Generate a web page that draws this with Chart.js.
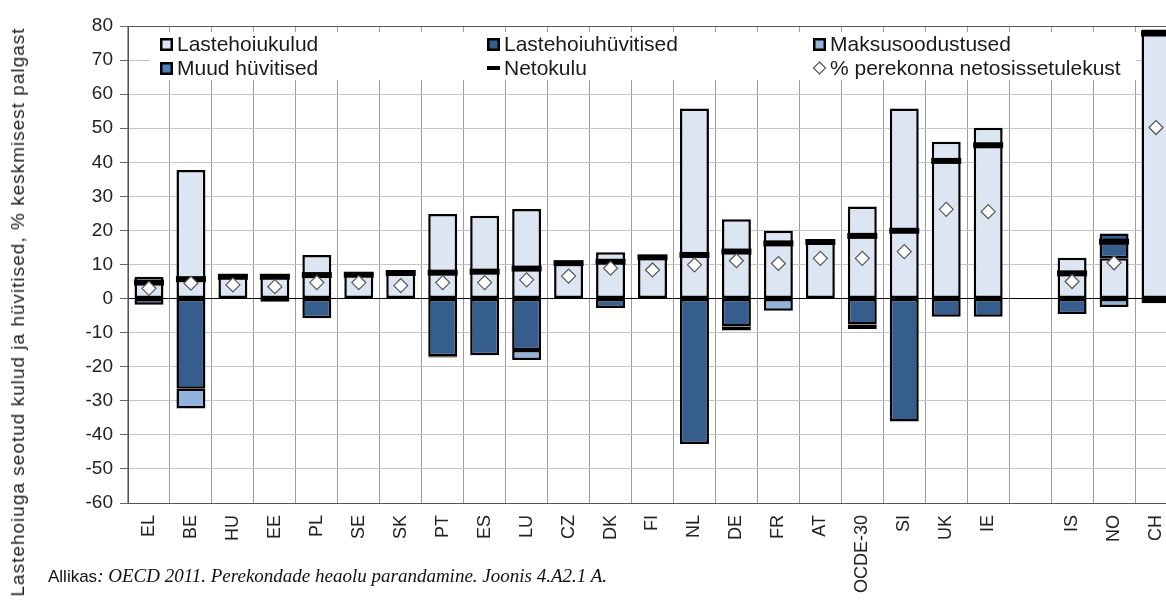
<!DOCTYPE html>
<html>
<head>
<meta charset="utf-8">
<script src="https://cdn.jsdelivr.net/npm/chart.js@4.4.1/dist/chart.umd.min.js"></script>
<style>
html,body{margin:0;padding:0;background:#fff;overflow:hidden;}
#wrap{position:relative;width:1166px;height:601px;overflow:hidden;}
#c{position:absolute;left:0;top:0;}
#ytitle{position:absolute;left:18px;top:312px;transform:translate(-50%,-50%) rotate(-90deg);white-space:nowrap;font:19px "Liberation Sans",Arial,sans-serif;letter-spacing:1px;color:#222;}
#src{position:absolute;left:48px;top:565px;font:17px "Liberation Sans",Arial,sans-serif;color:#111;white-space:nowrap;}
#src i{font-family:"Liberation Serif","Times New Roman",serif;font-size:19px;}
</style>
</head>
<body>
<div id="wrap">
  <canvas id="c" width="1198" height="640"></canvas>
  <div id="ytitle">Lastehoiuga seotud kulud ja hüvitised, % keskmisest palgast</div>
  <div id="src">Allikas<i>: OECD 2011. Perekondade heaolu parandamine. Joonis 4.A2.1 A.</i></div>
</div>
<script>
// categories (empty slot separates the non-EU group)
const countries = ['EL','BE','HU','EE','PL','SE','SK','PT','ES','LU','CZ','DK','FI','NL','DE','FR','AT','OCDE-30','SI','UK','IE','','IS','NO','CH'];

// values, % of average wage
const kulud   = [6.4, 37.7, 6.5, 7.2, 12.8, 7.2, 7.8, 24.8, 24.3, 26.3, 10.6, 13.6, 12.3, 55.8, 23.3, 19.9, 17.0, 27.0, 55.8, 46.0, 50.1, null, 12.0, 11.8, 79.0];
const hyvitised = [-1.8, -26.5, null, -0.9, -5.8, null, null, -16.9, -16.6, -15.1, null, -2.8, null, -42.7, -8.2, null, null, -7.6, -36.1, -5.3, -5.3, null, -4.5, 7.3, null];
const maksu   = [null, -5.8, null, null, null, null, null, null, null, -2.9, null, null, null, null, -1.2, -3.6, null, -1.3, null, null, null, null, null, -2.5, -1.4];
const muud    = [null, null, null, null, null, null, null, -0.4, null, null, null, null, null, null, null, null, null, null, null, null, null, null, null, null, null];
const netokulu = [4.7, 5.7, 6.4, 6.4, 6.9, 7.0, 7.5, 7.6, 7.9, 8.8, 10.4, 10.8, 12.1, 12.8, 13.8, 16.2, 16.6, 18.4, 19.9, 40.4, 45.0, null, 7.4, 16.7, 77.8];
const protsent = [3.0, 4.5, 4.0, 3.5, 4.7, 4.7, 3.8, 4.7, 4.7, 5.5, 6.6, 8.9, 8.4, 9.9, 11.1, 10.3, 11.8, 11.8, 13.8, 26.2, 25.5, null, 5.0, 10.5, 50.2];

const yTicks = {min: -60, max: 80, step: 10};

const FONT = '"Liberation Sans", Arial, sans-serif';

function barSet(label, data, color){
  return {type:'bar', label, data, backgroundColor: color, borderColor:'#000', borderWidth:2.5,
    borderSkipped:false, barPercentage:0.69, categoryPercentage:1, order:2};
}

// legend in a white box, 3 columns x 2 rows
const boxLegend = {
  id: 'boxLegend',
  afterDraw(chart){
    const c = chart.ctx, a = chart.chartArea;
    const ds = chart.data.datasets;
    const cols = [a.left + 32, a.left + 359, a.left + 685];
    const rows = [a.top + 18, a.top + 42];
    const slots = [[0,0,0],[1,1,0],[2,2,0],[3,0,1],[4,1,1],[5,2,1]];
    c.save();
    c.fillStyle = '#fff';
    c.fillRect(a.left + 22, a.top + 6, 986, 48);
    c.font = '21px ' + FONT;
    c.textBaseline = 'middle';
    slots.forEach(([i,col,row])=>{
      const d = ds[i], x = cols[col], y = rows[row];
      if(d.type === 'bar'){
        c.fillStyle = '#000'; c.fillRect(x, y-6, 13, 13);
        c.fillStyle = d.backgroundColor; c.fillRect(x+2.5, y-3.5, 8, 8);
      } else if(d.pointStyle === 'line'){
        c.fillStyle = '#000'; c.fillRect(x, y-2, 13, 4);
      } else {
        c.beginPath();
        c.moveTo(x+6.5, y-6); c.lineTo(x+12.5, y); c.lineTo(x+6.5, y+6); c.lineTo(x+0.5, y); c.closePath();
        c.fillStyle = '#fff'; c.fill();
        c.strokeStyle = '#555'; c.lineWidth = 1.2; c.stroke();
      }
      c.fillStyle = '#1a1a1a';
      c.fillText(d.label, x + 17, y + 1);
    });
    c.restore();
  }
};

new Chart(document.getElementById('c'), {
  data: {
    labels: countries,
    datasets: [
      barSet('Lastehoiukulud', kulud, '#DCE6F2'),
      barSet('Lastehoiuhüvitised', hyvitised, '#355E8E'),
      barSet('Maksusoodustused', maksu, '#93B3DD'),
      barSet('Muud hüvitised', muud, '#4F81BD'),
      {type:'line', label:'Netokulu', data:netokulu, showLine:false, stack:'net', order:1,
        pointStyle:'line', pointRadius:15, pointBorderWidth:6, pointBorderColor:'#000', pointBackgroundColor:'#000'},
      {type:'line', label:'% perekonna netosissetulekust', data:protsent, showLine:false, stack:'pct', order:0,
        pointStyle:'rectRot', pointRadius:7, pointBorderWidth:1.2, pointBorderColor:'#555', pointBackgroundColor:'#fff'}
    ]
  },
  options: {
    responsive:false, animation:false, events:[],
    layout:{padding:{top:26, right:4, left:0, bottom:0}},
    plugins:{legend:{display:false}, tooltip:{enabled:false}},
    scales:{
      x:{
        stacked:true,
        grid:{offset:true, color:'#9c9c9c', drawTicks:false},
        border:{display:false},
        ticks:{minRotation:90, maxRotation:90, autoSkip:false, padding:12, color:'#222', font:{family:FONT, size:18}},
        afterFit(s){ s.height = 137; }
      },
      y:{
        stacked:true, min:yTicks.min, max:yTicks.max,
        ticks:{stepSize:yTicks.step, padding:7, color:'#222', font:{family:FONT, size:19}},
        grid:{
          color: c => c.tick.value === 0 ? '#000' : (c.tick.value === yTicks.max || c.tick.value === yTicks.min ? '#555' : '#c4c4c4'),
          tickLength:8, tickColor:'#666'
        },
        border:{color:'#555'},
        afterFit(s){ s.width = 128; }
      }
    }
  },
  plugins:[boxLegend]
});
</script>
</body>
</html>
